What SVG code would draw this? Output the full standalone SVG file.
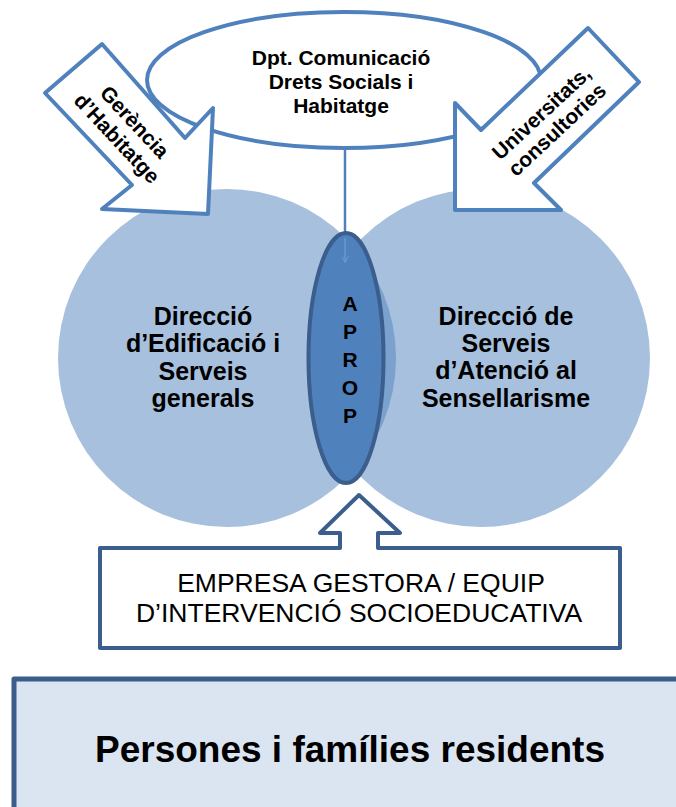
<svg xmlns="http://www.w3.org/2000/svg" width="676" height="807" viewBox="0 0 676 807">
<style>
  .b { font-family: "Liberation Sans", Arial, sans-serif; font-weight: bold; fill: #000; text-anchor: middle; }
  .r { font-family: "Liberation Sans", Arial, sans-serif; fill: #000; text-anchor: middle; }
  .circle { fill: #4F81BD; fill-opacity: 0.5; }
  .blk { fill: #fff; stroke: #4F81BD; stroke-width: 4; stroke-linejoin: round; }
  .dark { stroke: #3B5E8C; stroke-linejoin: round; }
</style>
<defs>
  <marker id="ah" viewBox="0 0 10 10" refX="9" refY="5" markerWidth="7" markerHeight="7" orient="auto" markerUnits="userSpaceOnUse">
    <path d="M0,0 L10,5 L0,10" fill="none" stroke="#6E97CA" stroke-width="1.5"/>
  </marker>
</defs>
<rect width="676" height="807" fill="#fff"/>

<g id="circle-edificacio">
  <circle class="circle" cx="227" cy="358" r="169"/>
  <text class="b" font-size="25" x="203" y="325">Direcció</text>
  <text class="b" font-size="25" x="203" y="352">d’Edificació i</text>
  <text class="b" font-size="25" x="203" y="380">Serveis</text>
  <text class="b" font-size="25" x="203" y="407">generals</text>
</g>

<g id="circle-sensellarisme">
  <circle class="circle" cx="481" cy="358" r="169"/>
  <text class="b" font-size="25" x="506" y="325">Direcció de</text>
  <text class="b" font-size="25" x="506" y="352">Serveis</text>
  <text class="b" font-size="25" x="506" y="379">d’Atenció al</text>
  <text class="b" font-size="25" x="506" y="407">Sensellarisme</text>
</g>

<g id="dpt-comunicacio">
  <ellipse cx="344" cy="80" rx="197" ry="68" fill="#fff" stroke="#4F81BD" stroke-width="4"/>
  <text class="b" font-size="21" x="341" y="65">Dpt. Comunicació</text>
  <text class="b" font-size="21" x="341" y="89">Drets Socials i</text>
  <text class="b" font-size="21" x="341" y="113">Habitatge</text>
</g>

<g id="connectors">
  <line x1="345" y1="148" x2="345" y2="236" stroke="#4F81BD" stroke-width="2.5"/>
</g>

<g id="aprop">
  <ellipse cx="346" cy="358" rx="37.5" ry="125" fill="#4F81BD" class="dark" stroke-width="4"/>
  <line x1="345" y1="238" x2="345" y2="262" stroke="#6E97CA" stroke-width="1.5" marker-end="url(#ah)"/>
  <text class="b" font-size="21" x="350" y="311">A</text>
  <text class="b" font-size="21" x="350" y="339">P</text>
  <text class="b" font-size="21" x="350" y="367">R</text>
  <text class="b" font-size="21" x="350" y="395">O</text>
  <text class="b" font-size="21" x="350" y="423">P</text>
</g>

<g id="gerencia-habitatge">
  <polygon class="blk" points="102,44 185,138 213,108 208,214 102,209 132,185 45,93"/>
  <g transform="translate(126,130) rotate(47)">
    <text class="b" font-size="21" x="0" y="-4.5">Gerència</text>
    <text class="b" font-size="21" x="0" y="19.5">d’Habitatge</text>
  </g>
</g>

<g id="universitats-consultories">
  <polygon class="blk" points="588,28 639,82 534,183 561,210 455,210 455,103 481,130"/>
  <g transform="translate(549,121) rotate(-43)">
    <text class="b" font-size="21" x="0" y="-4">Universitats,</text>
    <text class="b" font-size="21" x="0" y="19">consultories</text>
  </g>
</g>

<g id="empresa-gestora">
  <path d="M100,548 L340,548 L340,533 L320,533 L359,495 L400,533 L378,533 L378,548 L620,548 L620,648 L100,648 Z" fill="#fff" class="dark" stroke-width="4"/>
  <text class="r" font-size="26.5" x="361" y="592">EMPRESA GESTORA / EQUIP</text>
  <text class="r" font-size="26.5" x="359" y="622">D’INTERVENCIÓ SOCIOEDUCATIVA</text>
</g>

<g id="persones-families">
  <rect x="14" y="679" width="680" height="140" fill="#DBE5F1" class="dark" stroke-width="5"/>
  <text class="b" font-size="37" x="350" y="762">Persones i famílies residents</text>
</g>
</svg>
